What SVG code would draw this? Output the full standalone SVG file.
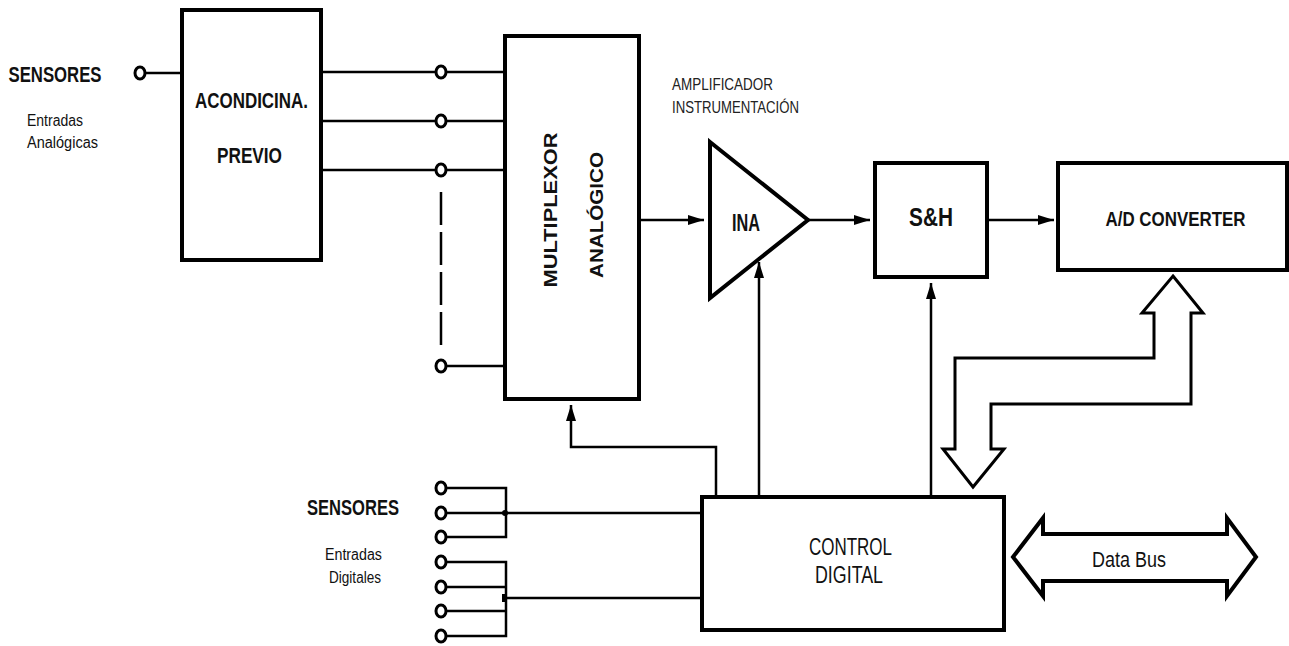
<svg xmlns="http://www.w3.org/2000/svg" width="1289" height="646" viewBox="0 0 1289 646">
<defs>
<marker id="ah" markerUnits="userSpaceOnUse" markerWidth="16" markerHeight="10" refX="16" refY="5" orient="auto">
<path d="M0,0 L16,5 L0,10 Z" fill="#000"/>
</marker>
</defs>
<style>
.box{fill:#fff;stroke:#000;stroke-width:4}
.ln{fill:none;stroke:#000;stroke-width:2.5}
.bus{fill:#fff;stroke:#000;stroke-width:3;stroke-linejoin:miter}
.term{fill:#fff;stroke:#000;stroke-width:3}
.t{font-family:"Liberation Sans",Arial,sans-serif;fill:#111;text-anchor:middle}
.b{font-weight:bold}
.s{font-family:"Liberation Sans",Arial,sans-serif;fill:#222}
</style>
<rect width="1289" height="646" fill="#fff"/>

<g id="connectors">
<line class="ln" x1="146" y1="73" x2="182" y2="73"/>
<line class="ln" x1="321" y1="72" x2="505" y2="72"/>
<line class="ln" x1="321" y1="121" x2="505" y2="121"/>
<line class="ln" x1="321" y1="170" x2="505" y2="170"/>
<line class="ln" x1="441" y1="192" x2="441" y2="345" stroke-dasharray="33 7"/>
<line class="ln" x1="441" y1="366" x2="505" y2="366"/>
<line class="ln" x1="639" y1="220" x2="704" y2="220" marker-end="url(#ah)"/>
<line class="ln" x1="808" y1="220" x2="870" y2="220" marker-end="url(#ah)"/>
<line class="ln" x1="987" y1="220" x2="1054" y2="220" marker-end="url(#ah)"/>
<line class="ln" x1="759" y1="497" x2="759" y2="262" marker-end="url(#ah)"/>
<line class="ln" x1="931" y1="497" x2="931" y2="283" marker-end="url(#ah)"/>
<path class="ln" d="M716,497 V447 H571 V405" marker-end="url(#ah)"/>
<path class="ln" d="M441,488 H506 V537 H441 M441,513 H702"/>
<path class="ln" d="M441,562 H506 V636 H441 M441,587 H506 M441,611 H506 M506,598 H702"/>
<circle cx="505" cy="513" r="3" fill="#000"/>
<rect x="502" y="594" width="5" height="8" fill="#000"/>
<polygon class="bus" points="1173,276 1203,313 1191,313 1191,404 991,404 991,449 1004,449 973,487 943,449 955,449 955,358 1154,358 1154,313 1142,313"/>
<polygon class="bus" style="stroke-width:4" points="1013,557 1043,518 1043,534 1227,534 1227,518 1256,557 1227,596 1227,581 1043,581 1043,596"/>
<text class="t" x="1129" y="567" font-size="22" textLength="74" lengthAdjust="spacingAndGlyphs">Data Bus</text>
</g>

<g id="terminals">
<ellipse class="term" cx="140" cy="73" rx="5" ry="6"/>
<ellipse class="term" cx="441" cy="72" rx="5" ry="6"/>
<ellipse class="term" cx="441" cy="121" rx="5" ry="6"/>
<ellipse class="term" cx="441" cy="170" rx="5" ry="6"/>
<ellipse class="term" cx="441" cy="366" rx="5" ry="6"/>
<ellipse class="term" cx="441" cy="488" rx="5" ry="6"/>
<ellipse class="term" cx="441" cy="513" rx="5" ry="6"/>
<ellipse class="term" cx="441" cy="537" rx="5" ry="6"/>
<ellipse class="term" cx="441" cy="562" rx="5" ry="6"/>
<ellipse class="term" cx="441" cy="587" rx="5" ry="6"/>
<ellipse class="term" cx="441" cy="611" rx="5" ry="6"/>
<ellipse class="term" cx="441" cy="636" rx="5" ry="6"/>
</g>

<g id="sensores-analog">
<text class="t b" x="55" y="82" font-size="22" textLength="93" lengthAdjust="spacingAndGlyphs">SENSORES</text>
<text class="t" x="55" y="126" font-size="16" textLength="56" lengthAdjust="spacingAndGlyphs">Entradas</text>
<text class="t" x="62.5" y="148" font-size="16" textLength="71" lengthAdjust="spacingAndGlyphs">Analógicas</text>
</g>

<g id="acondicina">
<rect class="box" x="182" y="10" width="139" height="250"/>
<text class="t b" x="251.5" y="108" font-size="22" textLength="113" lengthAdjust="spacingAndGlyphs">ACONDICINA.</text>
<text class="t b" x="249.5" y="163" font-size="22" textLength="65" lengthAdjust="spacingAndGlyphs">PREVIO</text>
</g>

<g id="multiplexor">
<rect class="box" x="505" y="36" width="134" height="363"/>
<text class="t b" transform="translate(557,210) rotate(-90)" font-size="19" textLength="155" lengthAdjust="spacingAndGlyphs">MULTIPLEXOR</text>
<text class="t b" transform="translate(603,215) rotate(-90)" font-size="18" textLength="126" lengthAdjust="spacingAndGlyphs">ANALÓGICO</text>
</g>

<g id="ina">
<polygon class="box" points="710,142 808,220 710,298"/>
<text class="t b" x="746" y="231" font-size="23" textLength="28" lengthAdjust="spacingAndGlyphs">INA</text>
<text class="s" x="672" y="90" font-size="17" textLength="101" lengthAdjust="spacingAndGlyphs">AMPLIFICADOR</text>
<text class="s" x="672" y="113" font-size="17" textLength="127" lengthAdjust="spacingAndGlyphs">INSTRUMENTACIÓN</text>
</g>

<g id="sh">
<rect class="box" x="875" y="163" width="112" height="114"/>
<text class="t b" x="931" y="226" font-size="25" textLength="44" lengthAdjust="spacingAndGlyphs">S&amp;H</text>
</g>

<g id="adc">
<rect class="box" x="1058" y="163" width="229" height="107"/>
<text class="t b" x="1175.5" y="226" font-size="21" textLength="140" lengthAdjust="spacingAndGlyphs">A/D CONVERTER</text>
</g>

<g id="control">
<rect class="box" x="702" y="497" width="302" height="133"/>
<text class="t" x="850.5" y="555" font-size="23" textLength="83" lengthAdjust="spacingAndGlyphs">CONTROL</text>
<text class="t" x="849" y="583" font-size="23" textLength="68" lengthAdjust="spacingAndGlyphs">DIGITAL</text>
</g>

<g id="sensores-digital">
<text class="t b" x="353" y="515" font-size="22" textLength="92" lengthAdjust="spacingAndGlyphs">SENSORES</text>
<text class="t" x="353.5" y="560" font-size="16" textLength="57" lengthAdjust="spacingAndGlyphs">Entradas</text>
<text class="t" x="355" y="583" font-size="16" textLength="52" lengthAdjust="spacingAndGlyphs">Digitales</text>
</g>
</svg>
